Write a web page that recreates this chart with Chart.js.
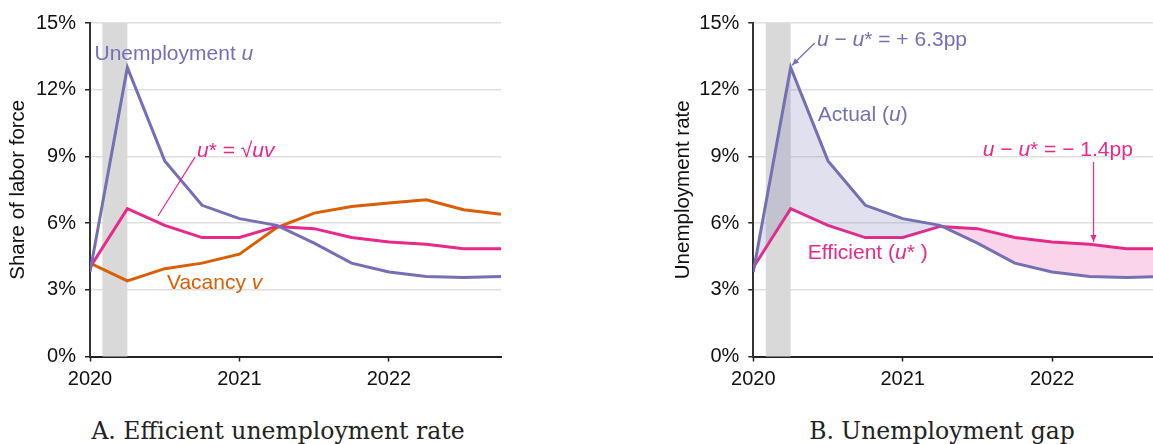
<!DOCTYPE html>
<html><head><meta charset="utf-8">
<script src="https://cdn.jsdelivr.net/npm/chart.js@4"></script>
<style>
body{margin:0;width:1153px;height:444px;background:#fff;overflow:hidden;position:relative;font-family:"Liberation Sans",Arial,sans-serif;}
#wa{position:absolute;left:0;top:0;width:560px;height:400px;}
#wb{position:absolute;left:665px;top:0;width:488px;height:400px;}
.cap{position:absolute;top:420px;font-family:"DejaVu Serif",serif;font-size:23.5px;line-height:23.5px;color:#222;white-space:nowrap;transform:translateX(-50%);}
</style></head><body>
<div id="wa"><canvas id="ca"></canvas></div>
<div id="wb"><canvas id="cb"></canvas></div>
<div class="cap" style="left:278px">A. Efficient unemployment rate</div>
<div class="cap" style="left:942px">B. Unemployment gap</div>
<script>
// ---- data ----
const quarters = [2020.0, 2020.25, 2020.5, 2020.75, 2021.0, 2021.25, 2021.5, 2021.75, 2022.0, 2022.25, 2022.5, 2022.75];
const unemployment = [3.8, 13.0, 8.8, 6.8, 6.2, 5.9, 5.1, 4.2, 3.8, 3.6, 3.55, 3.6];
const vacancy      = [4.2, 3.4, 3.95, 4.2, 4.6, 5.8, 6.45, 6.75, 6.9, 7.05, 6.6, 6.4];
const efficient    = [4.0, 6.65, 5.9, 5.35, 5.35, 5.85, 5.75, 5.35, 5.15, 5.05, 4.85, 4.85];
const yTicks = [0, 3, 6, 9, 12, 15];
const xTicks = [2020, 2021, 2022];
const recession = [2020.083, 2020.25];

const C = {u:'#7570b3', v:'#d95f02', e:'#e7298a', uFill:'rgba(117,112,179,0.22)', eFill:'rgba(231,41,138,0.2)',
           band:'#d9d9d9', grid:'#e0e0e0', axis:'#222', text:'#111'};
const SANS = '"Liberation Sans", Arial, sans-serif';
const NOTE_SIZE = 21;

function pts(ys){ return quarters.map((x,i)=>({x:x, y:ys[i]})); }

const bandPlugin = {
  id:'band',
  beforeDatasetsDraw(chart){
    const {ctx, chartArea:a, scales:{x}} = chart;
    const x0 = x.getPixelForValue(recession[0]), x1 = x.getPixelForValue(recession[1]);
    ctx.save(); ctx.fillStyle = C.band;
    ctx.fillRect(x0, a.top, x1-x0, a.bottom-a.top);
    ctx.restore();
  }
};

const notesPlugin = {
  id:'notes',
  afterDatasetsDraw(chart, args, opts){
    const {ctx, scales:{x,y}} = chart;
    ctx.save();
    (opts.items||[]).forEach(it=>{
      if(it.parts){
        let px = x.getPixelForValue(it.x), py = y.getPixelForValue(it.y);
        ctx.fillStyle = it.color; ctx.textBaseline = 'middle'; ctx.textAlign = 'left';
        it.parts.forEach(([t, ital])=>{
          ctx.font = (ital?'italic ':'') + NOTE_SIZE + 'px ' + SANS;
          ctx.fillText(t, px, py);
          px += ctx.measureText(t).width;
        });
      } else {
        const x0 = x.getPixelForValue(it.x0), y0 = y.getPixelForValue(it.y0);
        const x1 = x.getPixelForValue(it.x1), y1 = y.getPixelForValue(it.y1);
        ctx.strokeStyle = it.color; ctx.lineWidth = 1.2;
        ctx.beginPath(); ctx.moveTo(x0,y0); ctx.lineTo(x1,y1); ctx.stroke();
        if(it.arrow){
          const ang = Math.atan2(y1-y0, x1-x0), L = 7, W = 3;
          ctx.fillStyle = it.color; ctx.beginPath();
          ctx.moveTo(x1,y1);
          ctx.lineTo(x1 - L*Math.cos(ang) + W*Math.sin(ang), y1 - L*Math.sin(ang) - W*Math.cos(ang));
          ctx.lineTo(x1 - L*Math.cos(ang) - W*Math.sin(ang), y1 - L*Math.sin(ang) + W*Math.cos(ang));
          ctx.closePath(); ctx.fill();
        }
      }
    });
    ctx.restore();
  }
};

function makeOptions(xMax, yWidth, padRight, yTitle, notes){
  return {
    responsive:true, maintainAspectRatio:false, animation:false, devicePixelRatio:1,
    layout:{padding:{top:23, right:padRight, bottom:0, left:0}},
    plugins:{legend:{display:false}, tooltip:{enabled:false}, notes:{items:notes}},
    elements:{point:{radius:0}, line:{tension:0, borderWidth:3}},
    scales:{
      x:{type:'linear', min:2020, max:xMax,
         afterBuildTicks:s=>{ s.ticks = xTicks.map(v=>({value:v})); },
         afterFit:s=>{ s.height = 43.5; },
         grid:{drawOnChartArea:false, drawTicks:true, tickLength:5, tickColor:C.axis, tickWidth:1.5},
         border:{color:C.axis, width:2},
         ticks:{color:C.text, font:{size:20, family:SANS}, padding:6, maxRotation:0, callback:v=>String(v)}},
      y:{min:0, max:15,
         afterBuildTicks:s=>{ s.ticks = yTicks.map(v=>({value:v})); },
         afterFit:s=>{ s.width = yWidth; },
         grid:{color:C.grid, lineWidth:1.5, drawTicks:true, tickLength:5, tickColor:C.axis, tickWidth:1.5},
         border:{color:'#333', width:2},
         ticks:{color:C.text, font:{size:20, family:SANS}, padding:9, callback:v=>v+'%'},
         title:{display:true, text:yTitle, color:C.text, font:{size:20.5, family:SANS}, padding:{top:6, bottom:0}}}
    }
  };
}

new Chart(document.getElementById('ca'), {
  type:'line',
  data:{datasets:[
    {data:pts(unemployment), borderColor:C.u, fill:false},
    {data:pts(efficient), borderColor:C.e, fill:false},
    {data:pts(vacancy), borderColor:C.v, fill:false}
  ]},
  options:makeOptions(2022.75, 90, 59, 'Share of labor force', [
    {x:2020.03, y:13.6, color:C.u, parts:[['Unemployment ',0],['u',1]]},
    {x:2020.716, y:9.24, color:C.e, parts:[['u',1],['* = √',0],['uv',1]]},
    {x0:2020.703, y0:8.97, x1:2020.455, y1:6.32, color:C.e},
    {x:2020.515, y:3.3, color:C.v, parts:[['Vacancy ',0],['v',1]]}
  ]),
  plugins:[bandPlugin, notesPlugin]
});

new Chart(document.getElementById('cb'), {
  type:'line',
  data:{datasets:[
    {data:pts(unemployment), borderColor:C.u, fill:{target:1, above:C.uFill, below:C.eFill}},
    {data:pts(efficient), borderColor:C.e, fill:false}
  ]},
  options:makeOptions(2022.675, 88.3, 0, 'Unemployment rate', [
    {x:2020.426, y:14.24, color:C.u, parts:[['u',1],[' − ',0],['u',1],['* = + 6.3pp',0]]},
    {x0:2020.411, y0:14.1, x1:2020.259, y1:13.1, color:C.u, arrow:true},
    {x:2020.432, y:10.86, color:C.u, parts:[['Actual (',0],['u',1],[')',0]]},
    {x:2021.536, y:9.29, color:C.e, parts:[['u',1],[' − ',0],['u',1],['* = − 1.4pp',0]]},
    {x0:2022.277, y0:8.75, x1:2022.277, y1:5.15, color:C.e, arrow:true},
    {x:2020.365, y:4.66, color:C.e, parts:[['Efficient (',0],['u',1],['* )',0]]}
  ]),
  plugins:[bandPlugin, notesPlugin]
});
</script>
</body></html>
